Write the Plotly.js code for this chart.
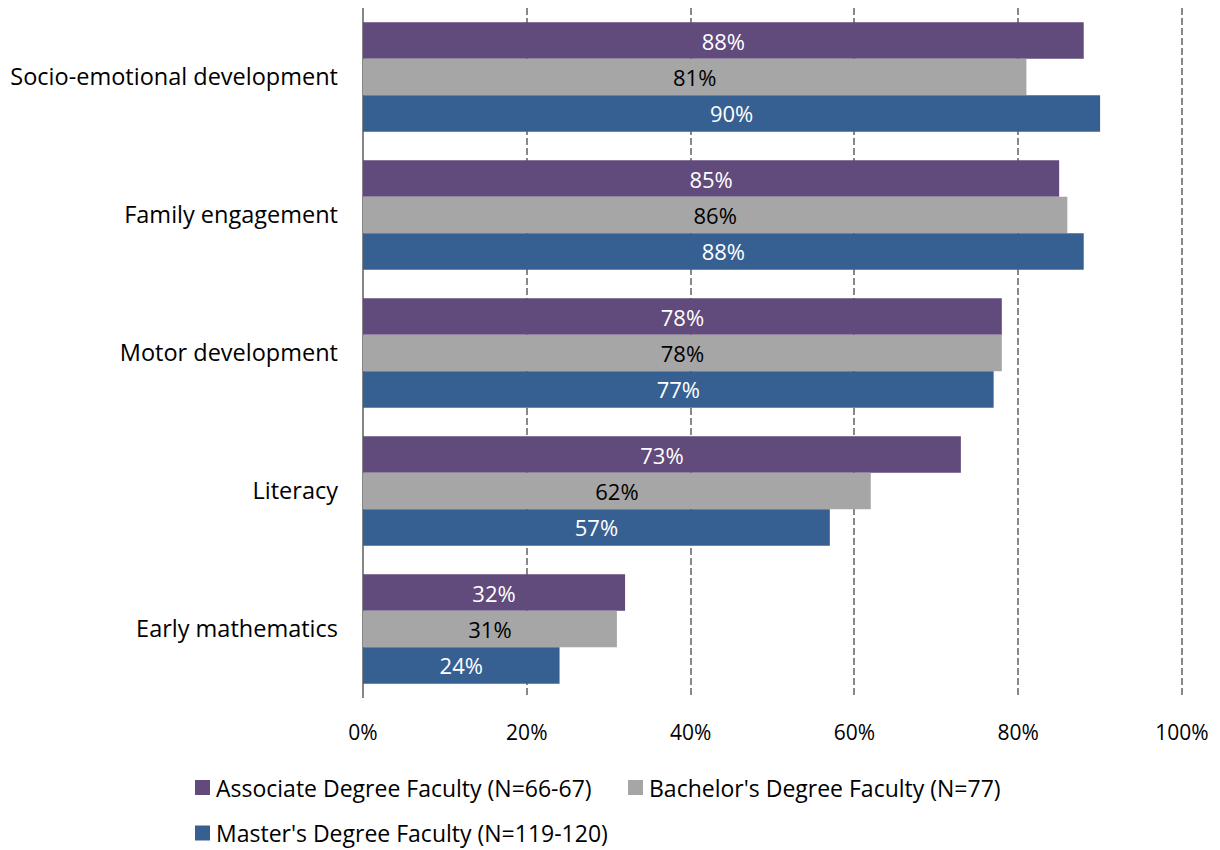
<!DOCTYPE html>
<html>
<head>
<meta charset="utf-8">
<script src="https://cdn.plot.ly/plotly-3.0.1.min.js"></script>
<style>html,body{margin:0;padding:0;background:#fff;}#chart{width:1220px;height:850px;}</style>
</head>
<body>
<div id="chart"></div>
<script>
var categories = ["Socio-emotional development", "Family engagement", "Motor development", "Literacy", "Early mathematics"];
var seriesNames = ["Associate Degree Faculty (N=66-67)", "Bachelor's Degree Faculty (N=77)", "Master's Degree Faculty (N=119-120)"];
var associateValues = [88, 85, 78, 73, 32];
var bachelorValues = [81, 86, 78, 62, 31];
var masterValues = [90, 88, 77, 57, 24];
var tickValues = [0, 20, 40, 60, 80, 100];
var tickLabels = ["0%", "20%", "40%", "60%", "80%", "100%"];

var colors = ["#614A7C", "#A6A6A6", "#376092"];
var textColors = ["#FFFFFF", "#000000", "#FFFFFF"];
var allValues = [associateValues, bachelorValues, masterValues];
var FONT = "Open Sans, Noto Sans, sans-serif";

var W = 1220, H = 850;
var ML = 363, MR = 36, MT = 8, MB = 152;
var plotW = W - ML - MR, plotH = H - MT - MB;
var xMax = 100 * plotW / 819;

var traces = allValues.map(function(vals, i) {
  return {
    type: "bar",
    orientation: "h",
    name: seriesNames[i],
    y: categories,
    x: vals,
    marker: {color: colors[i]},
    texttemplate: "%{x}%",
    textposition: "inside",
    insidetextanchor: "middle",
    constraintext: "none",
    textfont: {family: FONT, size: 22, color: textColors[i]},
    hoverinfo: "skip",
    showlegend: false
  };
});

// custom legend (positions in pixels -> paper coords)
function px2x(px) { return (px - ML) / plotW; }
function py2y(py) { return (H - MB - py) / plotH; }
var legendPos = [[195, 787.5], [628, 787.5], [195, 833]];
var shapes = [], annotations = [];
legendPos.forEach(function(p, i) {
  shapes.push({
    type: "rect", xref: "paper", yref: "paper",
    x0: px2x(p[0]), x1: px2x(p[0] + 15),
    y0: py2y(p[1] + 7.5), y1: py2y(p[1] - 7.5),
    fillcolor: colors[i], line: {width: 0}
  });
  annotations.push({
    xref: "paper", yref: "paper",
    x: px2x(p[0] + 19), y: py2y(p[1]),
    xanchor: "left", yanchor: "middle",
    text: seriesNames[i], showarrow: false,
    font: {family: FONT, size: 23, color: "#000"}
  });
});

var layout = {
  width: W, height: H,
  margin: {l: ML, r: MR, t: MT, b: MB, pad: 0},
  paper_bgcolor: "#fff", plot_bgcolor: "#fff",
  barmode: "group",
  bargap: 0.207,
  bargroupgap: 0,
  font: {family: FONT, size: 20, color: "#000"},
  showlegend: false,
  shapes: shapes,
  annotations: annotations,
  xaxis: {
    range: [0, xMax],
    tickvals: tickValues, ticktext: tickLabels,
    showgrid: true, gridcolor: "#888888", gridwidth: 2, griddash: "7px,3px",
    zeroline: true, zerolinecolor: "#868686", zerolinewidth: 2,
    showline: false, ticks: "",
    ticklabelstandoff: 20,
    tickfont: {family: FONT, size: 21, color: "#000"},
    fixedrange: true
  },
  yaxis: {
    autorange: "reversed",
    showgrid: false, zeroline: false, showline: false, ticks: "",
    ticklabelstandoff: 24,
    tickfont: {family: FONT, size: 23.5, color: "#000"},
    fixedrange: true
  }
};

Plotly.newPlot("chart", traces, layout, {displayModeBar: false, staticPlot: true});
</script>
</body>
</html>
